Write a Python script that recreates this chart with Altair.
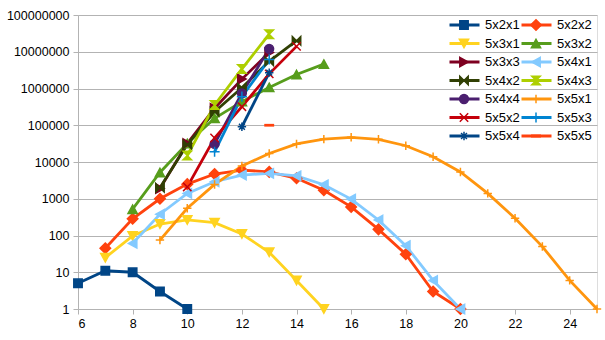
import re
import altair as alt
import pandas as pd

series_names = ["5x2x1", "5x2x2", "5x3x1", "5x3x2", "5x3x3", "5x4x1", "5x4x2",
                "5x4x3", "5x4x4", "5x5x1", "5x5x2", "5x5x3", "5x5x4", "5x5x5"]
series_colors = ["#004586", "#ff420e", "#ffd320", "#579d1c", "#7e0021", "#83caff", "#314004",
                 "#aecf00", "#4b1f6f", "#ff950e", "#c5000b", "#0084d1", "#004586", "#ff420e"]

# marker outlines in a -1..1 box (shrunk below so legend and plot share one size)
unit_shapes = [
    "M-1,-1H1V1H-1Z",
    "M0,-1.25L1.25,0L0,1.25L-1.25,0Z",
    "M-1.1,-1H1.1L0,1Z",
    "M0,-1L1.1,1H-1.1Z",
    "M-1,-1.1L1,0L-1,1.1Z",
    "M1,-1.1L-1,0L1,1.1Z",
    "M-1,-1L0,0L-1,1Z M1,-1L0,0L1,1Z",
    "M-1,-1H1L0,0Z M-1,1H1L0,0Z",
    "CIRCLE",
    "M0,-1V1M-1,0H1",
    "M-1,-1L1,1M1,-1L-1,1",
    "M0,-1.2V1.2M-1.2,0H1.2",
    "M0,-1V1M-1,0H1M-0.7,-0.7L0.7,0.7M0.7,-0.7L-0.7,0.7",
    "M-1,-0.15H1V0.15H-1Z",
]
k = 0.28


def shrink(p):
    if p == "CIRCLE":
        r = 1.05 * k
        return f"M{r},0A{r},{r} 0 1,1 {-r},0A{r},{r} 0 1,1 {r},0Z"
    return re.sub(r"-?\d+(\.\d+)?", lambda m: f"{float(m.group(0)) * k:.3f}", p)


series_shapes = [shrink(p) for p in unit_shapes]

# first x value of each series, then its y values for consecutive x
x_first = [6, 7, 7, 8, 9, 8, 9, 10, 11, 9, 10, 11, 12, 13]
v_5x2x1 = [5, 11, 10, 3, 1]
v_5x2x2 = [45, 285, 1000, 2500, 4700, 6000, 5400, 3600, 1700, 600, 147, 31, 3, 1]
v_5x3x1 = [25, 97, 205, 265, 223, 110, 35, 6, 1]
v_5x3x2 = [520, 5200, 32000, 155000, 440000, 1070000, 2400000, 4600000]
v_5x3x3 = [1900, 32000, 290000, 1800000, 9500000]
v_5x4x1 = [61, 380, 1400, 2900, 4400, 4900, 4200, 2400, 980, 265, 53, 6, 1]
v_5x4x2 = [2000, 30000, 232000, 1050000, 5500000, 20000000]
v_5x4x3 = [15000, 355000, 3400000, 30000000]
v_5x4x4 = [31000, 740000, 12000000]
v_5x5x1 = [75, 550, 2450, 7800, 17000, 31000, 42000, 47000, 41500, 27700, 13900,
           5350, 1400, 295, 50, 6, 1]
v_5x5x2 = [2100, 45000, 320000, 2500000, 14000000]
v_5x5x3 = [19000, 600000, 6200000]
v_5x5x4 = [91000, 2700000]
v_5x5x5 = [100000]

all_values = [v_5x2x1, v_5x2x2, v_5x3x1, v_5x3x2, v_5x3x3, v_5x4x1, v_5x4x2,
              v_5x4x3, v_5x4x4, v_5x5x1, v_5x5x2, v_5x5x3, v_5x5x4, v_5x5x5]

x_ticks = [6, 8, 10, 12, 14, 16, 18, 20, 22, 24]
y_ticks = [1, 10, 100, 1000, 10000, 100000, 1000000, 10000000, 100000000]

rows = []
for name, x0, vals in zip(series_names, x_first, all_values):
    for i, v in enumerate(vals):
        rows.append({"series": name, "name": name, "x": x0 + i, "y": v})
df = pd.DataFrame(rows)

font = "Liberation Sans"
grey = "#b3b3b3"

x_enc = alt.X("x:Q", scale=alt.Scale(domain=[6, 25], nice=False, zero=False),
              axis=alt.Axis(values=x_ticks, grid=False, ticks=True, tickSize=5,
                            tickColor=grey, domain=False,
                            title=None, labelFontSize=12.5, labelFont=font,
                            labelColor="black", labelPadding=3))
y_enc = alt.Y("y:Q", scale=alt.Scale(type="log", domain=[1, 100000000], nice=False),
              axis=alt.Axis(values=y_ticks, format="d", grid=True, gridColor=grey,
                            ticks=True, tickSize=5, tickColor=grey,
                            domain=True, domainColor=grey,
                            title=None, labelFontSize=12.5, labelFont=font,
                            labelColor="black", labelPadding=4))

leg_common = dict(orient="none", legendX=370, legendY=2, columns=2, direction="horizontal",
                  clipHeight=16, rowPadding=2.5, columnPadding=-2, labelFontSize=13,
                  labelFont=font, labelColor="black", padding=0, title=None,
                  symbolSize=900, symbolOffset=0)

lines = alt.Chart(df).mark_line(strokeWidth=2.8).encode(
    x=x_enc, y=y_enc,
    color=alt.Color("series:N",
                    scale=alt.Scale(domain=series_names, range=series_colors),
                    legend=alt.Legend(symbolType="stroke", symbolStrokeWidth=3,
                                      labelOffset=4, **leg_common)),
)

leg2 = alt.Legend(symbolStrokeWidth=1.5, labelOpacity=0, labelOffset=5, **leg_common)
points = alt.Chart(df).mark_point(filled=True, size=900, strokeWidth=1.5, opacity=1).encode(
    x=x_enc, y=y_enc,
    fill=alt.Fill("name:N", scale=alt.Scale(range=series_colors), legend=leg2),
    stroke=alt.Stroke("name:N", scale=alt.Scale(range=series_colors), legend=leg2),
    shape=alt.Shape("name:N", scale=alt.Scale(range=series_shapes), legend=leg2),
)

chart = alt.layer(lines, points).properties(
    width=519, height=294,
    autosize=alt.AutoSizeParams(type="none"),
    padding={"left": 78, "top": 15, "right": 8, "bottom": 31},
).configure_view(stroke=grey, strokeWidth=1).configure(background="white")

chart.save("out.html", embed_options={"renderer": "svg", "actions": False})
